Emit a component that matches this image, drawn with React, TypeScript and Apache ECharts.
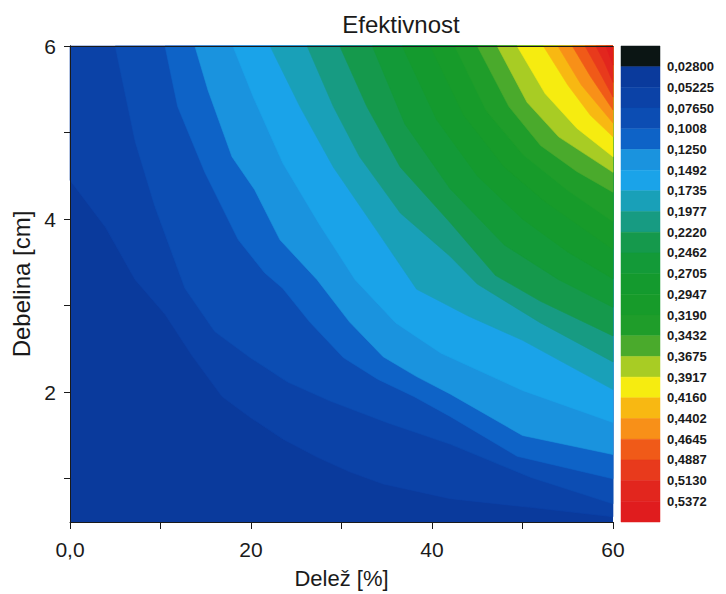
import React, { useEffect, useRef } from "react";
import * as echarts from "echarts";

// ---- axis ranges & ticks ----
const X_MIN = 0;
const X_MAX = 60;
const Y_MIN = 0.5;
const Y_MAX = 6;
const X_LABELS = [0, 20, 40, 60];
const X_TICKS = [0, 10, 20, 30, 40, 50, 60];
const Y_LABELS = [2, 4, 6];
const Y_TICKS = [1, 2, 3, 4, 5, 6];

// ---- colour scale (legend) ----
const LEVEL_LABELS = [
  "0,02800", "0,05225", "0,07650", "0,1008", "0,1250", "0,1492", "0,1735", "0,1977",
  "0,2220", "0,2462", "0,2705", "0,2947", "0,3190", "0,3432", "0,3675", "0,3917",
  "0,4160", "0,4402", "0,4645", "0,4887", "0,5130", "0,5372",
];
const BAND_COLORS = [
  "#0b1514", "#0a3a9c", "#0b42a7", "#0c4db3", "#0e63c7", "#1a93de", "#1aa3e9", "#19a0b8",
  "#179b82", "#15994c", "#139a38", "#149a2e", "#179b2a", "#1f9d2a", "#4aaa2c", "#a8cc24",
  "#f6ec10", "#f8b812", "#f89018", "#f05a18", "#e83a1c", "#e2261e", "#e01c1e",
];

// ---- contour lines (x = Delež %, y = Debelina cm) ----
const c05225 = [[0, 4.45], [3.9, 3.91], [7.2, 3.3], [10.5, 2.9], [13.5, 2.42], [16.8, 1.95], [19.9, 1.71], [23.5, 1.46], [27.3, 1.25], [30.9, 1.08], [34.6, 0.94], [42, 0.77], [50.8, 0.67], [60, 0.56]];
const c07650 = [[5.0, 6], [7.2, 4.9], [9.4, 4.14], [12.7, 3.2], [16, 2.7], [19.9, 2.4], [24, 2.12], [28.7, 1.9], [35, 1.65], [42, 1.4], [50.8, 1.02], [60, 0.71]];
const c1008 = [[10.5, 6], [11.9, 5.3], [14.9, 4.54], [18.6, 3.76], [21.5, 3.38], [23.5, 3.2], [26.5, 2.81], [30.2, 2.4], [34, 2.15], [38, 1.95], [42, 1.72], [49.4, 1.26], [60, 1.0]];
const c1250 = [[13.8, 6], [15.25, 5.49], [17.9, 4.72], [20.4, 4.34], [23.2, 3.76], [27.3, 3.3], [30.9, 2.81], [34.6, 2.41], [38.3, 2.18], [42, 1.98], [50, 1.5], [60, 1.28]];
const c1492 = [[18, 6], [20.3, 5.4], [23.5, 4.65], [27.5, 3.95], [31.5, 3.3], [36, 2.8], [41, 2.45], [50, 2.02], [60, 1.65]];
const c1735 = [[22.1, 6], [25.4, 5.3], [29.1, 4.6], [34.6, 3.76], [38.3, 3.19], [44, 2.88], [50, 2.6], [60, 2.03]];
const c1977 = [[26.2, 6], [29.1, 5.3], [32, 4.72], [36.5, 4.07], [42, 3.57], [45, 3.25], [52, 2.8], [60, 2.35]];
const c2220 = [[29.8, 6], [32.8, 5.3], [36.5, 4.6], [42, 3.96], [47, 3.35], [52, 3.05], [60, 2.65]];
const c2462 = [[33.4, 6], [37, 5.1], [42, 4.35], [48, 3.7], [54, 3.3], [60, 2.98]];
const c2705 = [[36.7, 6], [40.5, 5.15], [45, 4.5], [50, 4.0], [55, 3.62], [60, 3.31]];
const c2947 = [[39.8, 6], [43.5, 5.2], [48, 4.6], [52.5, 4.2], [60, 3.65]];
const c3190 = [[42.5, 6], [46, 5.25], [50, 4.75], [55, 4.33], [60, 3.97]];
const c3432 = [[45, 6], [48.5, 5.3], [52, 4.85], [56, 4.55], [60, 4.31]];
const c3675 = [[47.2, 6], [50.5, 5.35], [54, 4.95], [60, 4.54]];
const c3917 = [[49.4, 6], [52.5, 5.45], [56, 5.05], [60, 4.72]];
const c4160 = [[52.3, 6], [55, 5.55], [57.5, 5.2], [60, 4.95]];
const c4402 = [[53.9, 6], [56.5, 5.55], [60, 5.11]];
const c4645 = [[55.5, 6], [57.5, 5.65], [60, 5.26]];
const c4887 = [[56.9, 6], [58.4, 5.72], [60, 5.41]];
const c5130 = [[58.1, 6], [59.1, 5.8], [60, 5.58]];
const c5372 = [[59.2, 6], [60, 5.78]];

const CONTOURS = [
  c05225, c07650, c1008, c1250, c1492, c1735, c1977, c2220, c2462, c2705, c2947,
  c3190, c3432, c3675, c3917, c4160, c4402, c4645, c4887, c5130, c5372,
];

// region with value above a contour: contour + closing along the top-right corner
function regionAbove(curve: number[][]): number[][] {
  const pts = curve.map((p) => [p[0], p[1]]);
  const start = curve[0];
  const end = curve[curve.length - 1];
  if (end[0] < X_MAX) pts.push([X_MAX, Y_MIN]);
  pts.push([X_MAX, Y_MAX]);
  if (start[1] < Y_MAX) pts.push([X_MIN, Y_MAX]);
  return pts;
}
const REGIONS = CONTOURS.map(regionAbove);

const FONT = "'Liberation Sans', Arial, sans-serif";
const INK = "#1a1a1a";

export default function App() {
  const ref = useRef<HTMLDivElement>(null);
  useEffect(() => {
    if (!ref.current) return;
    const chart = echarts.init(ref.current, null, { renderer: "svg" });
    chart.setOption({
      animation: false,
      backgroundColor: "#ffffff",
      textStyle: { fontFamily: FONT },
      title: {
        text: "Efektivnost",
        left: 396,
        top: 7,
        textAlign: "center",
        textStyle: { fontFamily: FONT, fontSize: 24, fontWeight: "normal", color: INK },
      },
      grid: [
        { left: 70, top: 46, width: 543, height: 476, show: true, backgroundColor: BAND_COLORS[1], borderWidth: 0 },
        { left: 621, top: 46, width: 39, height: 476 },
      ],
      xAxis: [
        {
          type: "value", gridIndex: 0, min: X_MIN, max: X_MAX, interval: 10, z: 5,
          name: "Delež [%]", nameLocation: "middle", nameGap: 45,
          nameTextStyle: { fontFamily: FONT, fontSize: 22, color: INK },
          axisLine: { show: true, lineStyle: { color: INK, width: 1 } },
          axisTick: { show: true, length: 7, customValues: X_TICKS, lineStyle: { color: INK } },
          axisLabel: {
            customValues: X_LABELS, margin: 17, fontSize: 21, color: INK, fontFamily: FONT,
            formatter: (v: number) => (v === 0 ? "0,0" : String(v)),
          },
          splitLine: { show: false },
        },
        {
          type: "value", gridIndex: 0, position: "top", min: X_MIN, max: X_MAX, z: 5,
          axisLine: { show: true, lineStyle: { color: INK, width: 1 } },
          axisTick: { show: false }, axisLabel: { show: false }, splitLine: { show: false },
        },
        { type: "value", gridIndex: 1, min: 0, max: 1, show: false },
      ],
      yAxis: [
        {
          type: "value", gridIndex: 0, min: Y_MIN, max: Y_MAX, z: 5,
          name: "Debelina [cm]", nameLocation: "middle", nameGap: 31,
          nameTextStyle: { fontFamily: FONT, fontSize: 24, color: INK },
          axisLine: { show: true, lineStyle: { color: INK, width: 1 } },
          axisTick: { show: true, length: 6, customValues: Y_TICKS, lineStyle: { color: INK } },
          axisLabel: { customValues: Y_LABELS, margin: 14, fontSize: 21, color: INK, fontFamily: FONT },
          splitLine: { show: false },
        },
        {
          type: "value", gridIndex: 0, position: "right", min: Y_MIN, max: Y_MAX, z: 5,
          axisLine: { show: true, lineStyle: { color: INK, width: 1 } },
          axisTick: { show: false }, axisLabel: { show: false }, splitLine: { show: false },
        },
        {
          type: "value", gridIndex: 1, position: "right", min: 0, max: BAND_COLORS.length, interval: 1,
          inverse: true,
          axisLine: { show: false }, axisTick: { show: false }, splitLine: { show: false },
          axisLabel: {
            margin: 7, fontSize: 13, fontWeight: "bold", color: INK, fontFamily: FONT,
            formatter: (v: number) => (v >= 1 && v <= LEVEL_LABELS.length ? LEVEL_LABELS[v - 1] : ""),
          },
        },
      ],
      series: [
        {
          type: "custom",
          xAxisIndex: 0,
          yAxisIndex: 0,
          z: 2,
          silent: true,
          data: REGIONS.map((_, i) => [i]),
          renderItem: (params: any, api: any) => {
            const i = params.dataIndex;
            const points = REGIONS[i].map((p) => api.coord(p));
            const color = BAND_COLORS[i + 2];
            return {
              type: "polygon",
              shape: { points },
              style: { fill: color, stroke: color, lineWidth: 0.6 },
            };
          },
        },
        {
          type: "custom",
          xAxisIndex: 2,
          yAxisIndex: 2,
          silent: true,
          data: BAND_COLORS.map((_, j) => [j]),
          renderItem: (params: any, api: any) => {
            const j = params.dataIndex;
            const p0 = api.coord([0, j]);
            const p1 = api.coord([1, j + 1]);
            return {
              type: "rect",
              shape: { x: p0[0], y: p0[1], width: p1[0] - p0[0], height: p1[1] - p0[1] },
              style: { fill: BAND_COLORS[j], stroke: BAND_COLORS[j], lineWidth: 0.5 },
            };
          },
        },
      ],
    });
    return () => chart.dispose();
  }, []);
  return <div ref={ref} style={{ width: 726, height: 594, marginLeft: -8, marginTop: -8 }} />;
}
